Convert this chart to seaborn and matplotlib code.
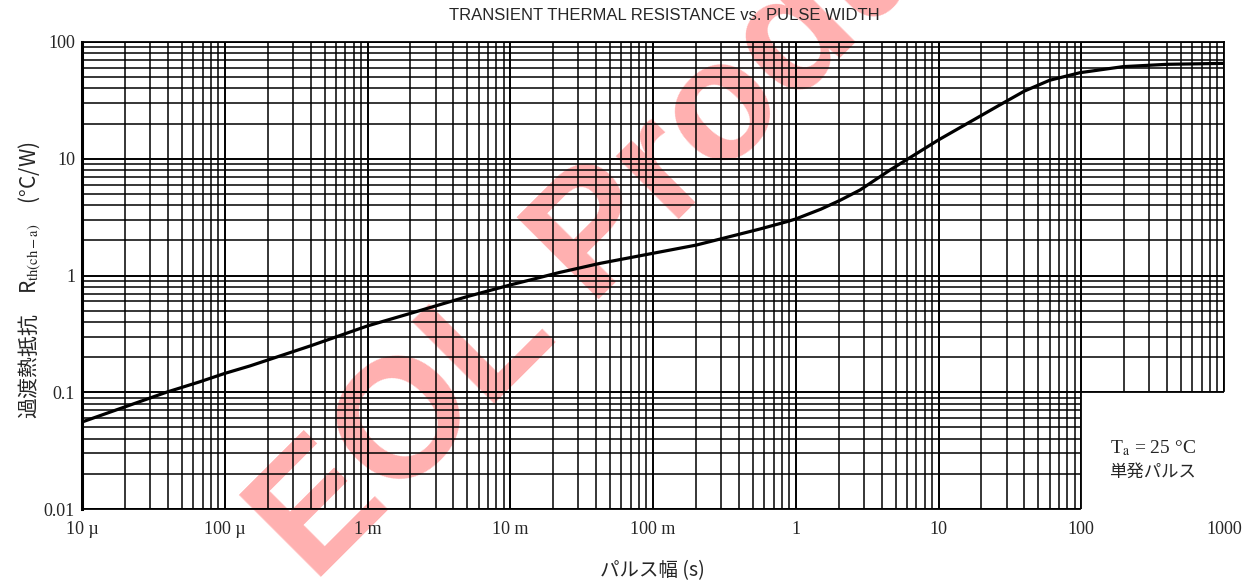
import numpy as np
import pandas as pd
import matplotlib
matplotlib.use("Agg")
import matplotlib.pyplot as plt
import matplotlib.ticker as mticker
import seaborn as sns

# ---- data ----
pulse_width = [1e-5, 3.9e-5, 6.7e-5, 1e-4, 1.5e-4, 4e-4, 1e-3, 2e-3, 5e-3, 1e-2,
               1.37e-2, 2.2e-2, 4.25e-2, 0.1, 0.2, 0.56, 0.865, 1.0, 1.5, 2.04,
               2.82, 4.57, 10, 27, 40, 60, 98, 196, 400, 1000]
rth = [0.0556, 0.1, 0.123, 0.145, 0.168, 0.25, 0.37, 0.474, 0.66, 0.83,
       0.914, 1.06, 1.27, 1.55, 1.82, 2.5, 2.89, 3.05, 3.7, 4.4,
       5.4, 8.0, 14.5, 29, 38, 47, 54.6, 61.5, 64.4, 65.6]
x_ticks = [1e-5, 1e-4, 1e-3, 1e-2, 1e-1, 1, 10, 100, 1000]
x_labels = ["10 \u00b5", "100 \u00b5", "1 m", "10 m", "100 m", "1", "10", "100", "1000"]
y_ticks = [0.01, 0.1, 1, 10, 100]
y_labels = ["0.01", "0.1", "1", "10", "100"]

df = pd.DataFrame({"t": pulse_width, "r": rth})

sns.set_theme(style="white")
plt.rcParams["font.family"] = ["Liberation Serif", "DejaVu Serif"]
plt.rcParams["mathtext.fontset"] = "stix"

fig = plt.figure(figsize=(12.49, 5.87), dpi=100, facecolor="white")
ax = fig.add_axes([82/1249, 1-509/587, (1224-82)/1249, (509-42)/587])
ax.set_facecolor("none")

# watermark
fig.text(648/1249, 1-188/587, "EOL Product", fontsize=122, fontweight="bold",
         family=["Liberation Sans", "DejaVu Sans"], color="#ffb0b0",
         rotation=45, rotation_mode="anchor", ha="center", va="center", zorder=-5)

sns.lineplot(data=df, x="t", y="r", ax=ax, color="black", lw=2.3, zorder=5)

ax.set_xscale("log")
ax.set_yscale("log")
ax.set_xlim(1e-5, 1e3)
ax.set_ylim(0.01, 100)

ax.xaxis.set_major_locator(mticker.FixedLocator(x_ticks))
ax.xaxis.set_major_formatter(mticker.FixedFormatter(x_labels))
ax.yaxis.set_major_locator(mticker.FixedLocator(y_ticks))
ax.yaxis.set_major_formatter(mticker.FixedFormatter(y_labels))
ax.xaxis.set_minor_locator(mticker.LogLocator(base=10, subs=np.arange(2, 10), numticks=100))
ax.yaxis.set_minor_locator(mticker.LogLocator(base=10, subs=np.arange(2, 10), numticks=100))
ax.xaxis.set_minor_formatter(mticker.NullFormatter())
ax.yaxis.set_minor_formatter(mticker.NullFormatter())

ax.grid(which="major", color="black", lw=1.4)
ax.grid(which="minor", color="black", lw=1.1)
ax.tick_params(which="both", length=0)
ax.tick_params(axis="x", pad=9, labelsize=13)
ax.tick_params(axis="y", pad=5, labelsize=13)
for s in ax.spines.values():
    s.set_color("black")
    s.set_linewidth(1.3)
ax.spines["left"].set_linewidth(2.2)

# condition box
ax.fill_between([100, 1000], 0.01, 0.1, color="white", zorder=3)
ax.plot([100, 100, 1000], [0.01, 0.1, 0.1], color="black", lw=1.3, zorder=4)
ax.text(np.sqrt(100*1000), 10**-1.477, "T$_\\mathrm{a}$ = 25 \u00b0C", ha="center", va="center",
        fontsize=14, zorder=6)
ax.text(np.sqrt(100*1000), 10**-1.683, "単発パルス", ha="center", va="center",
        fontsize=12.5, family=["Noto Sans CJK JP", "DejaVu Sans"], zorder=6)

ax.set_xlabel("")
ax.set_ylabel("")
fig.text(652/1249, 1-571/587, "パルス幅 (s)", ha="center", va="center", fontsize=14,
         family=["Noto Sans CJK JP", "DejaVu Sans"])
fig.text(30/1249, 1-280/587, "過渡熱抵抗　R$_\\mathrm{th(ch-a)}$　(°C/W)", rotation=90,
         ha="center", va="center", fontsize=15, family=["Noto Sans CJK JP", "DejaVu Sans"])
fig.text(664/1249, 1-16/587, "TRANSIENT THERMAL RESISTANCE vs. PULSE WIDTH", ha="center",
         va="center", fontsize=12, family=["Liberation Sans", "DejaVu Sans"])

fig.savefig("out.png", dpi=100, facecolor="white")
